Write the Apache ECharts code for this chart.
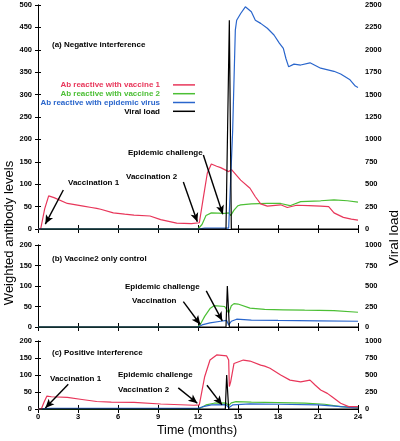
<!DOCTYPE html>
<html><head><meta charset="utf-8">
<script src="https://cdn.jsdelivr.net/npm/echarts/dist/echarts.min.js"></script>
<style>html,body{margin:0;padding:0;background:#fff}#c{width:400px;height:441px}</style>
</head><body><div id="c"></div>
<script>
// ---- Data (months, values) ----
const monthTicks = [0,3,6,9,12,15,18,21,24];
const names = ['Ab reactive with vaccine 1','Ab reactive with vaccine 2','Ab reactive with epidemic virus','Viral load'];

// Panel (a) Negative interference
const aRedT = [0,0.2,0.5,0.8,1.2,2.2,3.4,4.0,4.4,4.7,5.65,6.5,7.2,8.4,9.2,10.4,11.5,12.1,12.4,12.7,13.0,13.4,13.7,14.3,14.5,15.2,15.9,16.3,16.7,17.2,18.2,18.7,19.4,20.3,21.2,21.8,22.2,22.9,23.5,24];
const aRed  = [0,0,45,74,70,57,51,48,46,44,36,33,31,29,21,13,12,14,70,125,145,140,137,128,133,109,91,72,56,51,54,48,53,52,51,50,36,26,22,20];
const aGrnT = [0,12.0,12.3,12.6,13.0,14.0,14.3,14.45,14.7,15.0,15.2,16.0,17.2,18.2,18.9,19.7,21.2,22.2,23.2,24];
const aGrn  = [0,0,10,30,36,35,36,30,42,52,54,56,57,57,52,61,63,65,63,60];
const aBluT = [0,12.0,12.5,14.3,14.45,14.6,14.8,14.9,15.2,15.55,15.7,16.0,16.3,16.7,17.2,17.7,18.1,18.4,18.6,18.8,19.2,19.7,20.4,21.2,22.2,22.7,23.4,23.8,24];
const aBlu  = [0,0,2,2,0,220,444,466,481,496,500,485,466,459,448,433,415,403,380,362,368,366,371,359,352,346,333,319,316];
const aVirT = [0,14.1,14.35,14.5,24];
const aVir  = [0,0,2330,0,0];

// Panel (b) Vaccine2 only control
const bGrnT = [0,12.0,12.2,12.5,12.9,13.2,14.0,14.15,14.3,14.5,14.7,15.0,15.9,17,18.4,20,22.2,24];
const bGrn  = [0,0,8,26,45,52,50,50,34,52,57,56,46,43,42,41,40,36];
const bBluT = [0,12.0,12.3,12.9,13.7,14.15,14.3,14.5,14.9,16,18,21,24];
const bBlu  = [0,0,5,10,14,16,5,14,19,17,16,15,14];
const bVirT = [0,14.1,14.2,14.35,24];
const bVir  = [0,0,500,0,0];

// Panel (c) Positive interference
const cRedT = [0,0.25,0.45,0.67,1.0,2.2,3.3,4.4,5.5,7.2,9.2,11.7,12.1,12.25,12.5,12.9,13.4,14.15,14.3,14.35,14.45,14.7,15.4,15.9,16.7,17.0,17.4,18.2,18.9,19.7,20.4,20.8,21.2,21.7,22.05,22.7,23.3,24];
const cRed  = [0,0,20,38,36,34,28,22,20,19.6,14.7,11,12,17,95,144,159,156,144,66,80,134,144,141,129,126,120,100,85,80,85,70,56,46,36,17,7,7];
const cGrnT = [0,12.0,12.3,12.6,13.2,14.1,14.3,14.5,14.85,16,18,20,21.5,22.7,24];
const cGrn  = [0,0,5,12,17,18,10,18,21.6,20,19,17,14,7,5];
const cBluT = [0,0.5,1,12,12.3,13,14.1,14.3,14.6,15.9,18,21,22.5,23.4,24];
const cBlu  = [0,1,2,2,6,12,13,4,12,15,14,12,8,4.5,3];
const cVirT = [0,14.05,14.15,14.3,24];
const cVir  = [0,0,500,0,0];

// Arrow annotations (data coordinates: [month, antibody level])
const aArrows = [[[1.9,87],[0.55,11]], [[10.9,105],[11.95,16]], [[12.4,165],[13.86,33]]];
const bArrows = [[[10.9,62],[12.17,6]], [[12.62,88],[13.82,15]]];
const cArrows = [[[2.27,73],[0.55,3]], [[10.52,62],[11.95,17]], [[12.67,70],[13.8,12]]];

// ---- Styling ----
const FONT = '"Liberation Sans", Arial, Helvetica, sans-serif';
const RED = '#e8365a', GRN = '#4cbf35', BLU = '#2a66cc', BLK = '#000';
const grids = [
  {left:38, top:5, width:320, height:224},
  {left:38, top:245, width:320, height:82},
  {left:38, top:341, width:320, height:68}
];
const leftMax = [500,200,200], rightMax = [2500,1000,1000];
const lab = {fontSize:7.5, fontWeight:'bold', color:'#000', fontFamily:FONT, formatter:(v)=>String(v)};

const xAxis = [], yAxis = [];
grids.forEach((g,i)=>{
  xAxis.push({type:'value', gridIndex:i, min:0, max:24, interval:3, position:'bottom',
    axisLine:{show:true, lineStyle:{color:'#000', width:1}},
    axisTick:{show:true, inside:true, length:4, lineStyle:{color:'#000'}},
    axisLabel:Object.assign({show: i===2, margin:4}, lab), splitLine:{show:false}});
  xAxis.push({type:'value', gridIndex:i, min:0, max:24, interval:3, position:'top',
    axisLine:{show:true, lineStyle:{color:'#000', width:1}},
    axisTick:{show:true, inside:true, length:4, lineStyle:{color:'#000'}},
    axisLabel:{show:false}, splitLine:{show:false}});
  yAxis.push({type:'value', gridIndex:i, min:0, max:leftMax[i], interval:50, position:'left',
    axisLine:{show:true, lineStyle:{color:'#000', width:1}},
    axisTick:{show:true, inside:true, length:3, lineStyle:{color:'#000'}},
    axisLabel:Object.assign({margin:6}, lab), splitLine:{show:false}});
  yAxis.push({type:'value', gridIndex:i, min:0, max:rightMax[i], interval:250, position:'right',
    axisLine:{show:true, lineStyle:{color:'#000', width:1}},
    axisTick:{show:true, inside:true, length:3, lineStyle:{color:'#000'}},
    axisLabel:Object.assign({margin:7}, lab), splitLine:{show:false}});
});

const pairs = (t,v)=>t.map((x,k)=>[x,v[k]]);
function line(name,color,t,v,gi,right,arrows){
  const s = {type:'line', name, xAxisIndex:2*gi, yAxisIndex:2*gi+(right?1:0),
    data:pairs(t,v), showSymbol:false, symbol:'none', smooth:false,
    lineStyle:{color, width:1.2}, itemStyle:{color}, silent:true, animation:false, clip:true};
  if(arrows){
    s.markLine = {silent:true, symbol:['none','arrow'], symbolSize:[6,9], animation:false,
      label:{show:false}, lineStyle:{color:'#000', width:1.4, type:'solid'},
      data: arrows.map(a=>[{coord:a[0]},{coord:a[1]}])};
  }
  return s;
}
const series = [
  line(names[1],GRN,aGrnT,aGrn,0,false,aArrows),
  line(names[0],RED,aRedT,aRed,0,false),
  line(names[2],BLU,aBluT,aBlu,0,false),
  line(names[3],BLK,aVirT,aVir,0,true),
  line(names[1],GRN,bGrnT,bGrn,1,false,bArrows),
  line(names[2],BLU,bBluT,bBlu,1,false),
  line(names[3],BLK,bVirT,bVir,1,true),
  line(names[1],GRN,cGrnT,cGrn,2,false,cArrows),
  line(names[2],BLU,cBluT,cBlu,2,false),
  line(names[0],RED,cRedT,cRed,2,false),
  line(names[3],BLK,cVirT,cVir,2,true)
];

function txt(text,x,y,opts){
  return {type:'text', x, y, silent:true, rotation:(opts&&opts.rot)||0,
    style:Object.assign({text, fill:'#000', fontSize:8, fontWeight:'bold', fontFamily:FONT,
      align:'left', verticalAlign:'middle'}, opts&&opts.style)};
}
const graphic = [
  txt('(a) Negative interference',52,45),
  txt('Epidemic challenge',128,153),
  txt('Vaccination 2',126,176.5),
  txt('Vaccination 1',68,183),
  txt('(b) Vaccine2 only control',52,258.5),
  txt('Epidemic challenge',125,287),
  txt('Vaccination',132,301),
  txt('(c) Positive interference',52,353),
  txt('Vaccination 1',50,379),
  txt('Epidemic challenge',118,375),
  txt('Vaccination 2',118,389.5),
  txt('Weighted antibody levels',9,233,{rot:Math.PI/2, style:{fontSize:13, fontWeight:'normal', align:'center'}}),
  txt('Viral load',394,238,{rot:Math.PI/2, style:{fontSize:13.5, fontWeight:'normal', align:'center'}}),
  txt('Time (months)',197,431,{style:{fontSize:12.5, fontWeight:'normal', align:'center'}})
];

const legendColors = [RED,GRN,BLU,BLK];
const option = {
  animation:false,
  backgroundColor:'#fff',
  textStyle:{fontFamily:FONT},
  grid:grids,
  xAxis, yAxis, series, graphic,
  legend:{
    orient:'vertical', right:205, top:80.5, align:'right', itemGap:0,
    itemWidth:22, itemHeight:1.5, icon:'rect', selectedMode:false, padding:0,
    textStyle:{fontSize:8, fontWeight:'bold', fontFamily:FONT, lineHeight:8.8, padding:[0,8,0,0]},
    data:names.map((n,i)=>({name:n, textStyle:{color:legendColors[i]}}))
  }
};
const chart = echarts.init(document.getElementById('c'), null, {renderer:'canvas'});
chart.setOption(option);
</script>
</body></html>
